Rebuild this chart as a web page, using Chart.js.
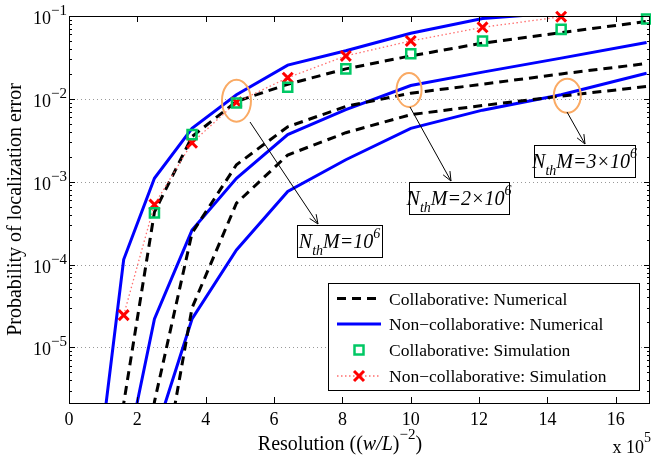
<!DOCTYPE html>
<html>
<head>
<meta charset="utf-8">
<script src="https://cdn.jsdelivr.net/npm/chart.js@4.4.1/dist/chart.umd.min.js"></script>
<style>
  html, body { margin: 0; padding: 0; background: #fff; }
  #wrap { width: 651px; height: 460px; }
</style>
</head>
<body>
<div id="wrap"><canvas id="chart"></canvas></div>
<script>
// resolution, in units of 1e5
const resolution = [0.9, 1.6, 2.5, 3.6, 4.9, 6.4, 8.1, 10, 12.1, 14.4, 16.9];

// numerical curves, one per N_th*M value
const collabNum1 = [1e-9, 2.1e-6, 4.3e-4, 3.5e-3, 9.3e-3, 1.5e-2, 2.3e-2, 3.3e-2, 4.7e-2, 6.3e-2, 8.6e-2];
const collabNum2 = [1e-10, 1e-9, 2.2e-6, 2.4e-4, 1.6e-3, 4.6e-3, 8.1e-3, 1.17e-2, 1.5e-2, 2.0e-2, 2.67e-2];
const collabNum3 = [1e-10, 1e-9, 8e-8, 3e-5, 5.5e-4, 2.1e-3, 3.9e-3, 6.45e-3, 8.3e-3, 1.08e-2, 1.41e-2];
const nonCollabNum1 = [5e-7, 1.15e-4, 1.1e-3, 4.4e-3, 1.12e-2, 2.55e-2, 3.8e-2, 6.2e-2, 9.3e-2, 1.1e-1, 1.3e-1];
const nonCollabNum2 = [1e-9, 3.5e-7, 2.2e-5, 2.6e-4, 1.1e-3, 3.7e-3, 7.4e-3, 1.45e-2, 2.1e-2, 3.1e-2, 4.8e-2];
const nonCollabNum3 = [1e-10, 1e-9, 8.3e-7, 2.2e-5, 1.5e-4, 7.6e-4, 1.84e-3, 4.4e-3, 7.3e-3, 1.12e-2, 2.04e-2];

// simulation points (N_th*M = 1e6)
const collabSim = [null, null, 4.2e-4, 3.7e-3, 8.9e-3, 1.38e-2, 2.3e-2, 3.5e-2, 5.0e-2, 6.9e-2, 9.2e-2];
const nonCollabSim = [null, 2.45e-5, 5.3e-4, 2.95e-3, 9.1e-3, 1.8e-2, 3.3e-2, 5.0e-2, 7.3e-2, 9.8e-2, null];

const xTicks = [0, 2, 4, 6, 8, 10, 12, 14, 16];
const yDecades = [1e-5, 1e-4, 1e-3, 1e-2, 1e-1];

const legendLabels = ['Collaborative: Numerical', 'Non\u2212collaborative: Numerical',
  'Collaborative: Simulation', 'Non\u2212collaborative: Simulation'];

const SERIF = '"Liberation Serif", "Times New Roman", serif';
const GREEN = 'rgb(0,200,100)';
const RED = '#ff0000';
const DOT_RED = 'rgb(255,110,110)';
const BLUE = '#0000ff';
const ORANGE = 'rgb(250,170,100)';

const pts = vals => resolution.map((x, i) => ({ x, y: vals[i] })).filter(p => p.y !== null);

function font(size, italic) {
  return (italic ? 'italic ' : '') + size + 'px ' + SERIF;
}

// draw a run of text pieces [text, size, dy, italic]
function runs(ctx, x, y, parts, align) {
  let w = 0;
  parts.forEach(p => { ctx.font = font(p[1], p[3]); w += ctx.measureText(p[0]).width; });
  let cx = align === 'right' ? x - w : align === 'center' ? x - w / 2 : x;
  ctx.textAlign = 'left';
  ctx.textBaseline = 'alphabetic';
  parts.forEach(p => {
    ctx.font = font(p[1], p[3]);
    ctx.fillText(p[0], cx, y + (p[2] || 0));
    cx += ctx.measureText(p[0]).width;
  });
}

function seg(ctx, x1, y1, x2, y2) {
  ctx.beginPath(); ctx.moveTo(x1, y1); ctx.lineTo(x2, y2); ctx.stroke();
}

function arrow(ctx, x1, y1, x2, y2) {
  seg(ctx, x1, y1, x2, y2);
  const a = Math.atan2(y2 - y1, x2 - x1);
  const L = 10, s = 0.4;
  ctx.beginPath();
  ctx.moveTo(x2 - L * Math.cos(a - s), y2 - L * Math.sin(a - s));
  ctx.lineTo(x2, y2);
  ctx.lineTo(x2 - L * Math.cos(a + s), y2 - L * Math.sin(a + s));
  ctx.stroke();
}

function labelBox(ctx, x, y, w, h, mid) {
  ctx.fillStyle = '#fff';
  ctx.fillRect(x, y, w, h);
  ctx.strokeStyle = '#000';
  ctx.lineWidth = 1;
  ctx.strokeRect(x + 0.5, y + 0.5, w, h);
  ctx.fillStyle = '#000';
  runs(ctx, x + w / 2, y + 23, [['N', 20, 0, true], ['th', 14, 7, true], ['M=' + mid, 20, 0, true], ['6', 14, -10, true]], 'center');
}

const decor = {
  id: 'decor',
  beforeDatasetsDraw(chart) {
    const { ctx, chartArea: a, scales: { y } } = chart;
    ctx.save();
    ctx.strokeStyle = '#999';
    ctx.lineWidth = 1;
    ctx.setLineDash([1, 3]);
    yDecades.forEach(v => {
      if (v >= 0.1) return;
      const py = Math.round(y.getPixelForValue(v)) + 0.5;
      seg(ctx, a.left, py, a.right, py);
    });
    ctx.restore();
  },
  afterDatasetsDraw(chart) {
    const { ctx, chartArea: a, scales: { x, y } } = chart;
    ctx.save();
    ctx.strokeStyle = '#000';
    ctx.fillStyle = '#000';
    ctx.lineWidth = 1;
    ctx.strokeRect(a.left + 0.5, a.top + 0.5, a.right - a.left - 1, a.bottom - a.top);

    // x ticks, inward, bottom and top
    xTicks.forEach(v => {
      if (v === 0) return;
      const px = Math.round(x.getPixelForValue(v)) + 0.5;
      seg(ctx, px, a.bottom, px, a.bottom - 6);
      seg(ctx, px, a.top, px, a.top + 6);
    });
    // y ticks, major and log minor, left and right
    yDecades.forEach(v => {
      const py = Math.round(y.getPixelForValue(v)) + 0.5;
      seg(ctx, a.left, py, a.left + 6, py);
      seg(ctx, a.right, py, a.right - 6, py);
      runs(ctx, 67, py + 7, [['10', 18], ['\u2212' + Math.round(-Math.log10(v)), 15, -9]], 'right');
    });
    for (let d = -6; d <= -2; d++) {
      for (let m = 2; m <= 9; m++) {
        const v = m * Math.pow(10, d);
        if (v <= y.min || v >= y.max) continue;
        const py = Math.round(y.getPixelForValue(v)) + 0.5;
        seg(ctx, a.left, py, a.left + 3, py);
        seg(ctx, a.right, py, a.right - 3, py);
      }
    }

    // axis titles
    runs(ctx, 340, 450, [['Resolution ((', 20], ['w/L', 20, 0, true], [')', 20], ['\u22122', 15, -11], [')', 20]], 'center');
    runs(ctx, 651, 453, [['x 10', 18], ['5', 14, -11]], 'right');
    ctx.save();
    ctx.translate(21, (a.top + a.bottom) / 2);
    ctx.rotate(-Math.PI / 2);
    runs(ctx, 0, 0, [['Probability of localization error', 20]], 'center');
    ctx.restore();

    // ellipses, arrows and notes
    ctx.strokeStyle = ORANGE;
    ctx.lineWidth = 2;
    [[4.9, 9.5e-3, 14.5, 21], [9.95, 1.28e-2, 12.5, 17], [14.58, 1.09e-2, 13.5, 17]].forEach(e => {
      ctx.beginPath();
      ctx.ellipse(x.getPixelForValue(e[0]), y.getPixelForValue(e[1]), e[2], e[3], 0, 0, Math.PI * 2);
      ctx.stroke();
    });
    ctx.strokeStyle = '#000';
    ctx.lineWidth = 1;
    arrow(ctx, 250, 122, 318, 224);
    arrow(ctx, 410, 107, 451, 181);
    arrow(ctx, 567, 112, 585, 144);
    labelBox(ctx, 297, 225, 85, 32, '10');
    labelBox(ctx, 409, 182, 100, 32, '2\u00d710');
    labelBox(ctx, 534, 145, 101, 32, '3\u00d710');

    // legend
    const lx = 328, ly = 283, lw = 311, lh = 107;
    ctx.fillStyle = '#fff';
    ctx.fillRect(lx, ly, lw, lh);
    ctx.strokeStyle = '#000';
    ctx.strokeRect(lx + 0.5, ly + 0.5, lw, lh);
    const rows = [298.5, 324, 350, 376];
    const s1 = 337, s2 = 381, sc = 359;
    ctx.lineWidth = 3;
    ctx.setLineDash([9, 6]);
    seg(ctx, s1, rows[0], s2, rows[0]);
    ctx.setLineDash([]);
    ctx.strokeStyle = BLUE;
    seg(ctx, s1, rows[1], s2, rows[1]);
    ctx.strokeStyle = GREEN;
    ctx.lineWidth = 2.5;
    ctx.strokeRect(sc - 4.5, rows[2] - 4.5, 9, 9);
    ctx.strokeStyle = DOT_RED;
    ctx.lineWidth = 1.3;
    ctx.setLineDash([1.5, 2.5]);
    seg(ctx, s1, rows[3], s2, rows[3]);
    ctx.setLineDash([]);
    ctx.strokeStyle = RED;
    ctx.lineWidth = 3;
    seg(ctx, sc - 5, rows[3] - 5, sc + 5, rows[3] + 5);
    seg(ctx, sc - 5, rows[3] + 5, sc + 5, rows[3] - 5);
    ctx.fillStyle = '#000';
    legendLabels.forEach((t, i) => runs(ctx, 389, rows[i] + 6, [[t, 17.5]], 'left'));
    ctx.restore();
  }
};

const numLine = (vals, color, dash) => ({
  data: pts(vals),
  borderColor: color,
  borderWidth: 3,
  borderDash: dash,
  pointRadius: 0,
  tension: 0,
  fill: false
});

new Chart(document.getElementById('chart'), {
  type: 'line',
  data: {
    datasets: [
      {
        data: pts(collabSim),
        showLine: false,
        pointStyle: 'rect',
        pointRadius: 6.4,
        pointBorderWidth: 2.5,
        borderColor: GREEN,
        backgroundColor: 'rgba(0,0,0,0)',
        clip: false
      },
      {
        data: pts(nonCollabSim),
        borderColor: DOT_RED,
        borderWidth: 1.3,
        borderDash: [1.5, 2.5],
        pointStyle: 'crossRot',
        pointRadius: 7,
        pointBorderWidth: 3,
        pointBorderColor: RED,
        clip: false,
        tension: 0
      },
      numLine(collabNum1, '#000', [9, 6]),
      numLine(collabNum2, '#000', [9, 6]),
      numLine(collabNum3, '#000', [9, 6]),
      numLine(nonCollabNum1, BLUE, []),
      numLine(nonCollabNum2, BLUE, []),
      numLine(nonCollabNum3, BLUE, [])
    ]
  },
  options: {
    responsive: true,
    maintainAspectRatio: false,
    animation: false,
    devicePixelRatio: 1,
    layout: { autoPadding: false, padding: { top: 16, right: 1, left: 0, bottom: 0 } },
    plugins: { legend: { display: false }, tooltip: { enabled: false } },
    scales: {
      x: {
        type: 'linear',
        min: 0,
        max: 17,
        afterBuildTicks: s => { s.ticks = xTicks.map(v => ({ value: v })); },
        afterFit: s => { s.height = 57; s.paddingLeft = 0; s.paddingRight = 0; },
        ticks: { font: { family: SERIF, size: 18 }, color: '#000', padding: 6 },
        grid: { display: false, drawTicks: false },
        border: { display: false }
      },
      y: {
        type: 'logarithmic',
        min: 2.13e-6,
        max: 0.1,
        afterBuildTicks: s => { s.ticks = yDecades.map(v => ({ value: v })); },
        afterFit: s => { s.width = 69; s.paddingTop = 0; s.paddingBottom = 0; },
        ticks: { callback: () => '' },
        grid: { display: false, drawTicks: false },
        border: { display: false }
      }
    }
  },
  plugins: [decor]
});
</script>
</body>
</html>
